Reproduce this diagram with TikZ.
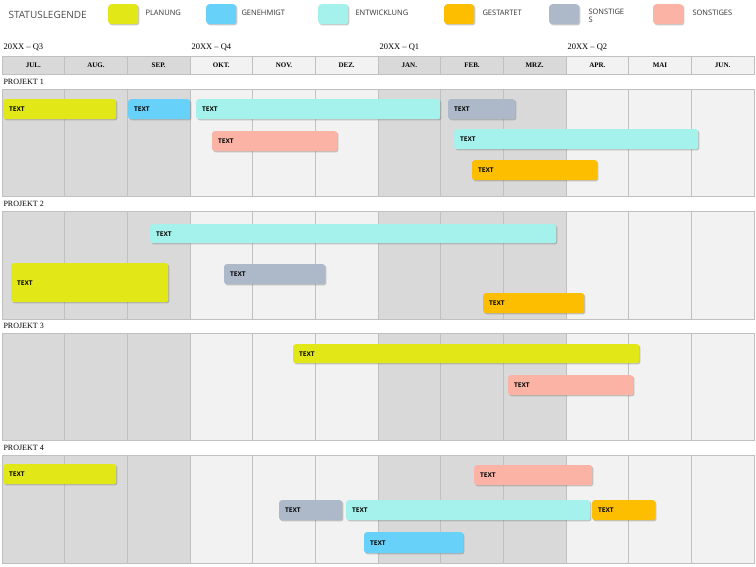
\documentclass[tikz,border=0pt]{standalone}
\usepackage{fontspec}
\setmainfont{Liberation Serif}
\newfontfamily\uisans{Open Sans}
\usetikzlibrary{shadows}
\definecolor{cPlan}{HTML}{E2E818}
\definecolor{cGen}{HTML}{68D1F9}
\definecolor{cEnt}{HTML}{A5F1EC}
\definecolor{cGes}{HTML}{FDBE00}
\definecolor{cSon}{HTML}{ADB8C8}
\definecolor{cSal}{HTML}{FBB3A6}
\definecolor{cDark}{HTML}{D9D9D9}
\definecolor{cLight}{HTML}{F2F2F2}
\definecolor{cLine}{HTML}{C0C0C0}
\tikzset{
  x=1pt,y=-1pt,
  barbox/.style={draw=none,rounded corners=2.5pt,anchor=north west,inner xsep=6pt,inner ysep=0pt,
     font=\uisans\fontsize{6.5}{7}\selectfont\bfseries,align=left,
     drop shadow={shadow xshift=1.2pt,shadow yshift=-1.2pt,opacity=0.35,fill=black!60}},
  swatch/.style={rounded corners=3pt,draw=none,anchor=north west,minimum width=30pt,minimum height=20pt,inner sep=0pt,
     drop shadow={shadow xshift=1.2pt,shadow yshift=-1.2pt,opacity=0.35,fill=black!60}},
  legtext/.style={font=\uisans\fontsize{7.5}{8}\selectfont,anchor=west,align=left,text=black!80},
  month/.style={font=\bfseries\fontsize{7}{8}\selectfont,anchor=center},
  quart/.style={font=\fontsize{8.5}{9}\selectfont,anchor=west},
  proj/.style={font=\fontsize{8}{9}\selectfont,anchor=west},
}
\newcommand{\gbar}[6]{%
  \pgfmathsetmacro{\bw}{#4-#2}\pgfmathsetmacro{\bh}{#5-#3}\pgfmathsetmacro{\tw}{#4-#2-12}%
  \node[barbox,fill=#6,minimum width=\bw pt,minimum height=\bh pt,text width=\tw pt] (#1) at (#2,#3) {TEXT};}
\begin{document}
\begin{tikzpicture}
\useasboundingbox (0,0) rectangle (756,567);
\fill[white] (0,0) rectangle (756,567);
% legend
\node[font=\uisans\fontsize{10}{11}\selectfont,text=black!70,anchor=west] (leg) at (5,15) {STATUSLEGENDE};
\node[swatch,fill=cPlan] (s1) at (108,4) {}; \node[legtext] (l1) at (142,13) {PLANUNG};
\node[swatch,fill=cGen] (s2) at (206,4) {}; \node[legtext] (l2) at (238,13) {GENEHMIGT};
\node[swatch,fill=cEnt] (s3) at (318,4) {}; \node[legtext] (l3) at (352,13) {ENTWICKLUNG};
\node[swatch,fill=cGes] (s4) at (444,4) {}; \node[legtext] (l4) at (479,13) {GESTARTET};
\node[swatch,fill=cSon] (s5) at (549,4) {}; \node[legtext,anchor=north west] (l5) at (585,6) {SONSTIGE\\S};
\node[swatch,fill=cSal] (s6) at (653,4) {}; \node[legtext] (l6) at (689,13) {SONSTIGES};
% quarters
\node[quart] (q3) at (0,47) {20XX – Q3};
\node[quart] (q4) at (188,47) {20XX – Q4};
\node[quart] (q1) at (376,47) {20XX – Q1};
\node[quart] (q2) at (564,47) {20XX – Q2};
% column backgrounds
\foreach \i in {0,...,11}{
  \pgfmathsetmacro{\xa}{2+\i*62.667}\pgfmathsetmacro{\xb}{2+(\i+1)*62.667}
  \pgfmathtruncatemacro{\q}{mod(floor(\i/3),2)}
  \ifnum\q=0 \def\cc{cDark}\else\def\cc{cLight}\fi
  \foreach \ya/\yb in {56/74,89/196,211/319,333/440,455/563}{
    \fill[\cc] (\xa,\ya) rectangle (\xb,\yb);
    \draw[cLine,line width=0.6pt] (\xa,\ya) rectangle (\xb,\yb);
  }
}
\foreach \m [count=\i from 0] in {JUL.,AUG.,SEP.,OKT.,NOV.,DEZ.,JAN.,FEB.,MRZ.,APR.,MAI,JUN.}{
  \node[month] (m\i) at ({2+(\i+0.5)*62.667},65) {\m};
}
\node[proj] (p1) at (0,82) {PROJEKT 1};
\node[proj] (p2) at (0,204) {PROJEKT 2};
\node[proj] (p3) at (0,326) {PROJEKT 3};
\node[proj] (p4) at (0,448) {PROJEKT 4};
% project 1
\gbar{a1}{3}{99}{116}{119}{cPlan}
\gbar{a2}{128}{99}{190}{119}{cGen}
\gbar{a3}{196}{99}{440}{119}{cEnt}
\gbar{a4}{448}{99}{515}{119}{cSon}
\gbar{a5}{212}{131}{337}{151}{cSal}
\gbar{a6}{454}{129}{698}{149}{cEnt}
\gbar{a7}{472}{160}{597}{180}{cGes}
% project 2
\gbar{b1}{150}{224}{556}{243}{cEnt}
\gbar{b2}{11}{263}{168}{302}{cPlan}
\gbar{b3}{224}{264}{325}{284}{cSon}
\gbar{b4}{483}{293}{584}{313}{cGes}
% project 3
\gbar{c1}{293}{344}{639}{363}{cPlan}
\gbar{c2}{508}{375}{633}{395}{cSal}
% project 4
\gbar{d1}{3}{464}{116}{484}{cPlan}
\gbar{d2}{474}{465}{592}{485}{cSal}
\gbar{d3}{279}{500}{342}{520}{cSon}
\gbar{d4}{346}{500}{590}{520}{cEnt}
\gbar{d5}{592}{500}{655}{520}{cGes}
\gbar{d6}{364}{532}{463}{553}{cGen}
\end{tikzpicture}
\end{document}
